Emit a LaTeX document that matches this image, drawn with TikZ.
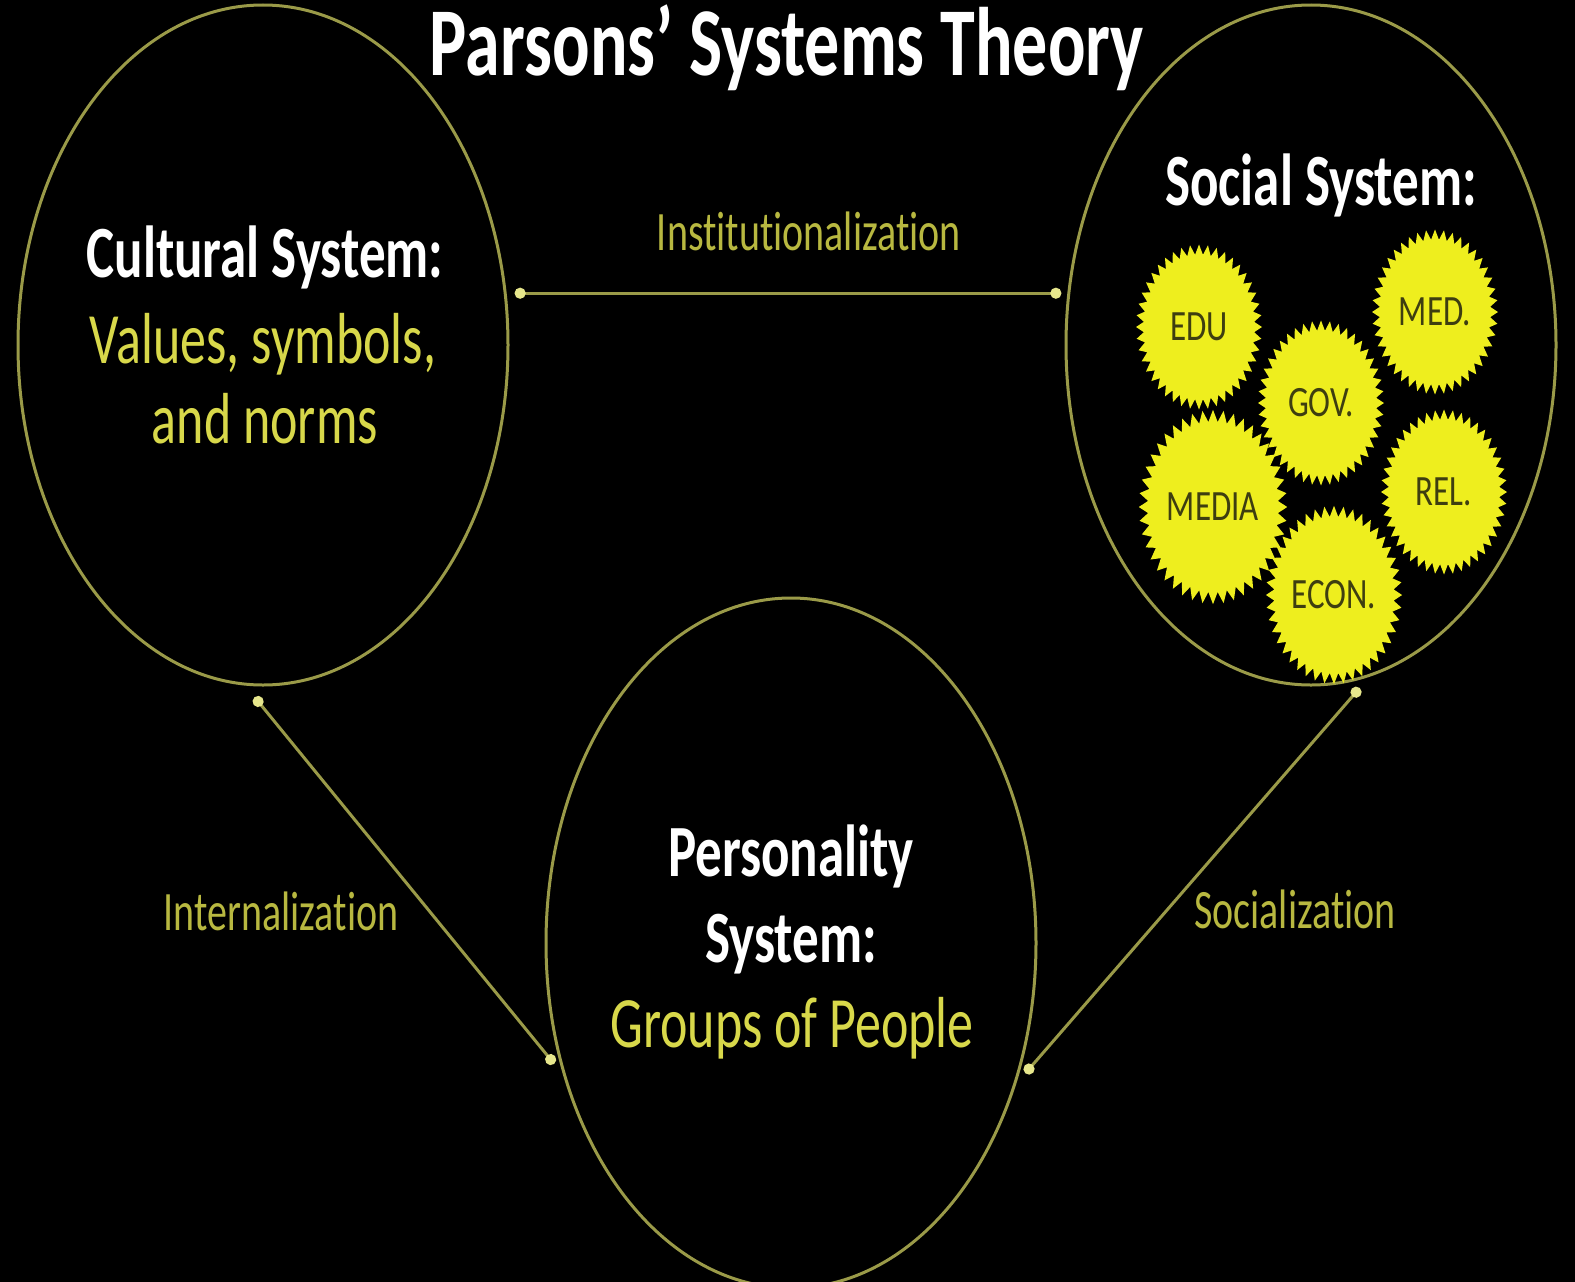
\documentclass[tikz,border=0pt]{standalone}
\usepackage{fontspec}
\setmainfont[Ligatures=NoCommon]{Carlito}
\usepackage[HTML]{xcolor}
\usepackage{tikz}
\usetikzlibrary{positioning, shapes.geometric, arrows.meta}

\definecolor{ringolive}{HTML}{9A9A48}
\definecolor{dotyellow}{HTML}{E6E68C}
\definecolor{valyellow}{HTML}{D8D84A}
\definecolor{labolive}{HTML}{B8B840}
\definecolor{burstyellow}{HTML}{EEEE1E}
\definecolor{bursttext}{HTML}{3E3E10}

% the slide was stretched upwards
\newcommand{\tall}[1]{\scalebox{1}[1.39]{#1}}

\tikzset{
  system/.style={ellipse, draw=ringolive, line width=3pt, inner sep=0pt, minimum width=490, minimum height=680},
  heading/.style={anchor=base, text=white, font=\fontsize{53}{60}\selectfont\bfseries},
  content/.style={anchor=base, text=valyellow, font=\fontsize{52}{60}\selectfont},
  process/.style={anchor=base, text=labolive, font=\fontsize{40}{48}\selectfont},
  burst/.style={star, star points=44, star point ratio=1.14, fill=burstyellow, minimum size=126, inner sep=0pt, text=bursttext, font=\fontsize{33}{40}\selectfont, transform shape},
  link/.style={draw=ringolive, line width=3pt, arrows={Circle[length=11pt,color=dotyellow]-Circle[length=11pt,color=dotyellow]}},
}

\begin{document}
\begin{tikzpicture}[x=1pt, y=-1pt]
\useasboundingbox (0,0) rectangle (1575,1282);
\clip (0,0) rectangle (1575,1282);
\fill[black] (0,0) rectangle (1575,1282);
% title
\node[anchor=base, text=white, font=\fontsize{70}{80}\selectfont\bfseries] (title) at (787,75) {\tall{Parsons' Systems Theory}};
% the three systems
\node[system] (cult) at (263,345) {};
\node[system] (soc) at (1311,345) {};
\node[system, minimum height=690] (pers) at (791,943) {};
% cultural system
\node[heading] (culthead) at (265,277) {\tall{Cultural System:}};
\node[content] (cultval) at (263,363) {\tall{Values, symbols,}};
\node[content] (cultnorm) at (265,443) {\tall{and norms}};
% social system
\node[heading] (sochead) at (1321,205) {\tall{Social System:}};
\foreach \name/\x/\y/\txt in {edu/1199/327/EDU, med/1435/312/MED., gov/1321/403/GOV., media/1213/507/MEDIA, rel/1444/492/REL., econ/1334/595/ECON.}
{
  \begin{scope}[shift={(\x,\y)}, yscale=1.31]
    \node[burst] (\name) at (0,0) {\txt};
  \end{scope}
}
% personality system
\node[heading] (pershead) at (791,876) {\tall{Personality}};
\node[heading] (perssys) at (791,962) {\tall{System:}};
\node[content] (persgrp) at (792,1047) {\tall{Groups of People}};
% processes
\draw[link, shorten <=8pt, shorten >=6pt] (cult.12) -- (soc.168);
\draw[link, shorten <=15pt, shorten >=14pt] (cult.267) -- (pers.210);
\draw[link, shorten <=15pt, shorten >=14pt] (soc.280) -- (pers.328);
\node[process] (inst) at (809,250) {\tall{Institutionalization}};
\node[process] (intern) at (281,930) {\tall{Internalization}};
\node[process] (social) at (1295,928) {\tall{Socialization}};
\end{tikzpicture}
\end{document}
